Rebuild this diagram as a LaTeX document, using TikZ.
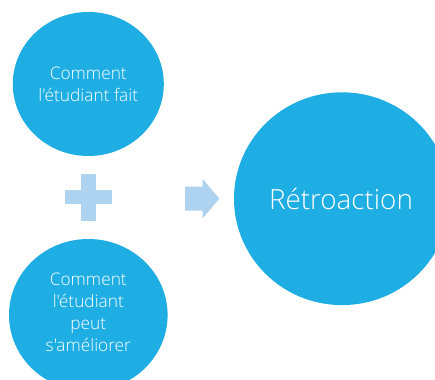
\documentclass[tikz,border=0pt]{standalone}
\usepackage{fontspec}
\setmainfont{Open Sans}[Ligatures=TeXOff, UprightFont={* Light}]
\usepackage{tikz}
\usetikzlibrary{calc}
\definecolor{bulle}{RGB}{30,174,227}
\definecolor{signe}{RGB}{174,211,240}
\tikzset{texte/.style={text=white, align=center, font=\fontsize{17.3}{22}\selectfont}}

\begin{document}
\begin{tikzpicture}[x=1pt, y=-1pt]
		%%%%% START %%%%%
		
		\useasboundingbox (0, 0) rectangle (435, 379);
		\fill[white] (0, 0) rectangle (435, 379);
		\clip (0, 0) rectangle (435, 379);
		
		\fill[color=bulle] (88.3, 84) ellipse (75.5 and 72);
		\node[texte] (fait) at (88.3, 84) {Comment\\l'étudiant fait};
		
		\fill[color=signe] (81, 174) rectangle (95.7, 220.7);
		\fill[color=signe] (65, 190) rectangle (111.7, 204.3);
		
		\fill[color=bulle] (88.3, 315) ellipse (79.3 and 76);
		\node[texte] (ameliorer) at (88.3, 312) {Comment\\l'étudiant\\peut\\s'améliorer};
		
		\fill[color=signe] (185, 186.7) -- (202.7, 186.7) -- (202.7, 179) -- (219.3, 198.7) -- (202.7, 218.3) -- (202.7, 210.7) -- (185, 210.7) -- cycle;
		
		\fill[color=bulle] (342, 198.7) ellipse (108 and 106.4);
		\node[texte, font=\fontsize{27.8}{32}\selectfont] (retro) at (341, 198.7) {Rétroaction};
		
		%%%%% END %%%%%
	\end{tikzpicture}
\end{document}
